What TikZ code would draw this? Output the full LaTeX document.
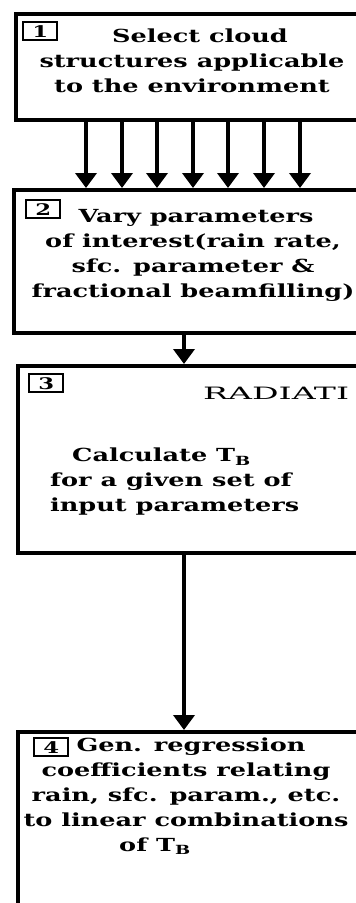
\documentclass[tikz,border=0pt]{standalone}
\usepackage{fontspec}
\setmainfont{DejaVu Serif}[FakeStretch=1.42]
\newfontfamily\capfont{DejaVu Serif}[FakeStretch=1.95]
\usetikzlibrary{positioning, arrows.meta}

\begin{document}
\begin{tikzpicture}[x=1pt, y=-1pt,
    stepbox/.style={draw, line width=3.6pt, rectangle, inner sep=0pt, anchor=north west},
    numbox/.style={draw, line width=2.4pt, rectangle, inner sep=0pt, minimum width=34pt, minimum height=18pt, anchor=north west, font=\fontsize{16}{16}\selectfont\bfseries},
    txt/.style={align=center, font=\fontsize{18}{25}\selectfont\bfseries},
    flow/.style={-{Triangle[width=21pt,length=15pt]}, line width=4pt}]
  \useasboundingbox (0,0) rectangle (356,903);
  \clip (0,0) rectangle (356,903);

  % Step 1
  \node[stepbox, minimum width=362pt, minimum height=106pt] (b1) at (14,12) {};
  \node[numbox] (n1) at (22,21) {1};
  \node[txt] (t1) at (192,61) {\hspace*{16pt}Select cloud\\structures applicable\\to the environment};

  % Step 2
  \node[stepbox, minimum width=364pt, minimum height=143pt] (b2) at (12,188) {};
  \node[numbox] (n2) at (25,199) {2};
  \node[txt] (t2) at (193,255) {\hspace*{6pt}Vary parameters\\of interest(rain rate,\\sfc. parameter \&\\fractional beamfilling)};

  % Step 3
  \node[stepbox, minimum width=360pt, minimum height=187pt] (b3) at (16,364) {};
  \node[numbox] (n3) at (28,373) {3};
  \node[anchor=base west, inner sep=0pt, font=\fontsize{17}{17}\capfont] (rt) at (203,399) {RADIATI};
  \node[txt, align=left, anchor=west, inner sep=0pt] (t3) at (50,482) {\hspace*{22pt}Calculate T\textsubscript{B}\\for a given set of\\input parameters};

  % Step 4
  \node[stepbox, minimum width=360pt, minimum height=210pt] (b4) at (16,730) {};
  \node[numbox] (n4) at (33,737) {4};
  \node[txt] (t4) at (186,796) {\hspace*{10pt}Gen. regression\\coefficients relating\\rain, sfc. param., etc.\\to linear combinations\\of T\textsubscript{B}\hspace*{62pt}};

  % arrows
  \foreach \x [count=\i] in {86,122,157,193,228,264,300} {
    \coordinate (c\i) at (\x,150);
    \draw[flow] (b1.south -| c\i) -- (b2.north -| c\i);
  }
  \coordinate (cm) at (184,340);
  \draw[flow] (b2.south -| cm) -- (b3.north -| cm);
  \draw[flow] (b3.south -| cm) -- (b4.north -| cm);
\end{tikzpicture}
\end{document}
